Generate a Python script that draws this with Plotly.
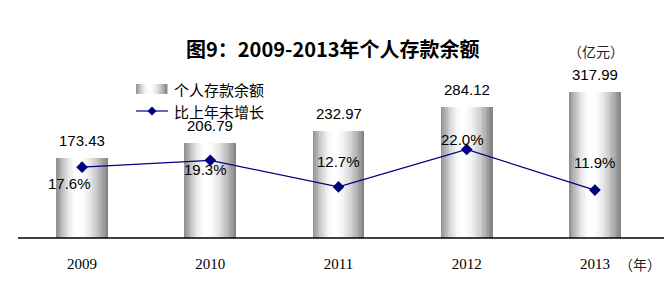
import math
import plotly.graph_objects as go

# ---------------- data ----------------
years = [2009, 2010, 2011, 2012, 2013]
year_labels = ["2009", "2010", "2011", "2012", "2013"]
balance = [173.43, 206.79, 232.97, 284.12, 317.99]          # 亿元
growth = [17.6, 19.3, 12.7, 22.0, 11.9]                      # %
balance_labels = ["173.43", "206.79", "232.97", "284.12", "317.99"]
growth_labels = ["17.6%", "19.3%", "12.7%", "22.0%", "11.9%"]

title_text = "图9：2009-2013年个人存款余额"
legend_bar = "个人存款余额"
legend_line = "比上年末增长"
unit_y = "（亿元）"
unit_x = "（年）"

# ---------------- layout constants (pixels) ----------------
W, H = 666, 288
ML, MR, MT, MB = 18, 7, 77, 50
PW = W - ML - MR
PH = H - MT - MB

def px_x(px):
    return (px - ML) / PW

def px_y(py):
    return (H - MB - py) / PH

def shade(t):
    # cylinder-like gray -> white -> gray
    if t < 0.42:
        b = 140 + (255 - 140) * math.sin(math.pi / 2 * t / 0.42)
    else:
        u = (t - 0.42) / 0.58
        b = 255 - (255 - 128) * (1 - math.cos(math.pi / 2 * u))
    b = int(round(b))
    return f"rgb({b},{b},{b})"

fig = go.Figure()

BW = 0.405
N = 30
sw = BW / N
for i in range(N):
    off = -BW / 2 + i * sw
    wid = min(sw * 1.6, BW / 2 - off)
    fig.add_trace(go.Bar(
        x=years, y=balance, width=[wid] * len(years), offset=[off] * len(years),
        marker=dict(color=shade((i + 0.5) / N), line=dict(width=0)),
        showlegend=False, hoverinfo="skip", yaxis="y",
    ))

fig.add_trace(go.Scatter(
    x=years, y=growth, yaxis="y2", mode="lines+markers",
    line=dict(color="#000080", width=1.2),
    marker=dict(symbol="diamond", size=9, color="#000080"),
    showlegend=False, hoverinfo="skip",
))

annotations = []
for yr, v, t in zip(years, balance, balance_labels):
    annotations.append(dict(x=yr, y=v, xref="x", yref="y", text=t, showarrow=False,
                            xanchor="center", yanchor="bottom", yshift=7,
                            font=dict(family="Liberation Sans", size=15, color="black")))

g_shift = [(-13, -16), (-5, -9), (0, 25), (-4, 10), (0, 28)]
for yr, v, t, (dx, dy) in zip(years, growth, growth_labels, g_shift):
    annotations.append(dict(x=yr, y=v, xref="x", yref="y2", text=t, showarrow=False,
                            xanchor="center", yanchor="middle", xshift=dx, yshift=dy,
                            font=dict(family="Liberation Sans", size=15, color="black")))

def paper_text(px, py, text, size, family="Noto Sans CJK SC", xanchor="center", color="black"):
    return dict(x=px_x(px), y=px_y(py), xref="paper", yref="paper", text=text,
                showarrow=False, xanchor=xanchor, yanchor="middle",
                font=dict(family=family, size=size, color=color))

annotations.append(paper_text(333, 49, f"<b>{title_text}</b>", 20))
annotations.append(paper_text(596, 51, unit_y, 14, color="#222"))
annotations.append(paper_text(640, 264, unit_x, 14, color="#222"))
annotations.append(paper_text(172, 89, legend_bar, 15, xanchor="left"))
annotations.append(paper_text(172, 111, legend_line, 15, xanchor="left"))

shapes = []
# baseline
shapes.append(dict(type="line", xref="paper", yref="paper", x0=0, x1=px_x(664), y0=0, y1=0,
                   line=dict(color="black", width=1.5)))
# legend gradient swatch
lx0, lx1, ly0, ly1 = 136, 167, 84, 94
n = 16
for i in range(n):
    a = lx0 + (lx1 - lx0) * i / n
    b = lx0 + (lx1 - lx0) * (i + 1) / n
    shapes.append(dict(type="rect", xref="paper", yref="paper",
                       x0=px_x(a), x1=px_x(b + 0.5), y0=px_y(ly1), y1=px_y(ly0),
                       line=dict(width=0), fillcolor=shade((i + 0.5) / n)))
# legend line + diamond
shapes.append(dict(type="line", xref="paper", yref="paper", x0=px_x(136), x1=px_x(168),
                   y0=px_y(111), y1=px_y(111), line=dict(color="#000080", width=1.2)))
cx, cy, r = 152, 111, 4.5
path = (f"M {px_x(cx - r)},{px_y(cy)} L {px_x(cx)},{px_y(cy - r)} "
        f"L {px_x(cx + r)},{px_y(cy)} L {px_x(cx)},{px_y(cy + r)} Z")
shapes.append(dict(type="path", xref="paper", yref="paper", path=path,
                   fillcolor="#000080", line=dict(color="#000080", width=0)))

fig.update_layout(
    width=W, height=H,
    margin=dict(l=ML, r=MR, t=MT, b=MB),
    paper_bgcolor="white", plot_bgcolor="white",
    barmode="overlay", bargap=0,
    showlegend=False,
    xaxis=dict(range=[2008.5, 2013.5], showgrid=False, zeroline=False, showline=False,
               tickmode="array", tickvals=years, ticktext=year_labels,
               ticks="outside", ticklen=12, tickcolor="rgba(0,0,0,0)",
               tickfont=dict(family="Liberation Serif", size=15, color="black")),
    yaxis=dict(range=[0, 350], visible=False, showgrid=False),
    yaxis2=dict(range=[0, 40], overlaying="y", visible=False, showgrid=False),
    annotations=annotations,
    shapes=shapes,
)

fig.write_html("out.html")
